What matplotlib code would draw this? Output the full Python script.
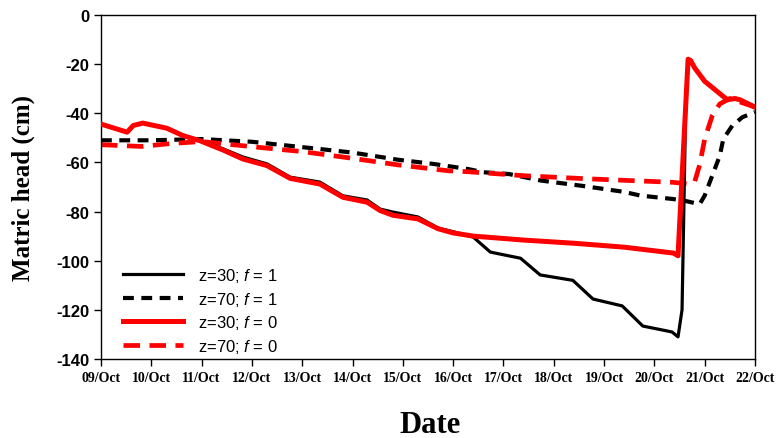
import numpy as np
import pandas as pd
import matplotlib
matplotlib.use('Agg')
import matplotlib.pyplot as plt
import matplotlib.dates as mdates

plt.rcParams['axes.unicode_minus'] = False
plt.rcParams['mathtext.fontset'] = 'custom'
plt.rcParams['mathtext.it'] = 'Liberation Sans:italic'
plt.rcParams['mathtext.rm'] = 'Liberation Sans'

# days after 09/Oct 00:00 and matric head (cm)
start = pd.Timestamp('2012-10-09')

t_z30_f0 = [0, 0.52, 0.64, 0.83, 1.31, 1.63, 1.97, 2.43, 2.82, 3.30, 3.76, 4.35, 4.81, 5.29,
            5.55, 5.8, 6.3, 6.7, 7.0, 7.4, 8.4, 9.4, 10.4, 11.38, 11.47, 11.67, 11.72,
            11.8, 12.0, 12.45, 12.6, 12.7, 13.0]
h_z30_f0 = [-44.4, -47.7, -45, -44, -46.1, -49.1, -51.2, -55.0, -58.6, -61.3, -66.5, -68.8,
            -74.2, -76.2, -79.6, -81.5, -83, -87, -88.7, -90, -91.6, -92.9, -94.5, -96.9,
            -98, -18, -18.5, -21.5, -27, -34.5, -34, -34.5, -37.5]

t_z30_f1 = [0, 0.52, 0.64, 0.83, 1.31, 1.63, 1.97, 2.43, 2.82, 3.30, 3.76, 4.35, 4.81, 5.29,
            5.55, 5.8, 6.3, 6.7, 7.0, 7.4, 7.74, 8.34, 8.73, 9.38, 9.78, 10.36, 10.77,
            11.35, 11.47, 11.55, 11.62, 11.67, 11.72, 11.8, 12.0, 12.45, 12.6, 12.7, 13.0]
h_z30_f1 = [-44.4, -47.7, -45, -44, -46.1, -49.1, -51.0, -54.5, -57.8, -60.6, -66.0, -68.0,
            -73.6, -75.3, -79.0, -80.2, -82.2, -86.7, -88.2, -90.4, -96.5, -99, -105.8, -108,
            -115.6, -118.4, -126.6, -129, -131, -120, -40, -18, -18.5, -21.5, -27, -34.5, -34,
            -34.5, -37.5]

t_z70_f1 = [0, 1.0, 2.0, 3.0, 4.1, 5.0, 5.9, 6.6, 7.3, 7.6, 8.1, 8.75, 9.55, 10.4, 10.72,
            11.37, 11.6, 11.9, 12.0, 12.15, 12.3, 12.37, 12.55, 12.75, 13.0]
h_z70_f1 = [-51, -51, -50.5, -51.6, -54, -56, -58.9, -60.6, -62.7, -64, -64.7, -67.4, -69.5,
            -72, -73.5, -74.9, -75.6, -77, -73.5, -65.4, -57.3, -50.5, -45, -41.6, -39.5]

t_z70_f0 = [0, 0.8, 1.4, 2.0, 3.1, 4.0, 4.95, 5.9, 6.9, 7.3, 8.4, 9.7, 11.37, 11.7, 11.8,
            11.9, 12.0, 12.15, 12.3, 12.5, 13.0]
h_z70_f0 = [-52.8, -53.5, -52.3, -51.5, -53.8, -55.6, -58.2, -61, -63.4, -63.8, -65.4, -66.7,
            -68.1, -68.8, -68, -61, -50.5, -41, -36.2, -34, -37.5]


def to_dates(days):
    return start + pd.to_timedelta(np.array(days), unit='D')


fig = plt.figure(figsize=(7.81, 4.39), dpi=100)
ax = fig.add_axes([0.1293, 0.18, 0.8374, 0.7836])

ax.plot(to_dates(t_z30_f1), h_z30_f1, color='black', lw=2.3, label='z=30; $f$ = 1', zorder=3)
ax.plot(to_dates(t_z70_f1), h_z70_f1, color='black', lw=3.0, ls=(0, (2.6, 1.8)),
        label='z=70; $f$ = 1', zorder=2)
ax.plot(to_dates(t_z30_f0), h_z30_f0, color='red', lw=3.6, label='z=30; $f$ = 0', zorder=4)
ax.plot(to_dates(t_z70_f0), h_z70_f0, color='red', lw=3.4, ls=(0, (3.5, 2.0)),
        label='z=70; $f$ = 0', zorder=2)

ax.set_xlim(start, start + pd.Timedelta(days=13))
ax.set_ylim(-140, 0)
ax.set_yticks(np.arange(-140, 1, 20))
ax.xaxis.set_major_locator(mdates.DayLocator())
ax.xaxis.set_major_formatter(mdates.DateFormatter('%d/%b'))

ax.tick_params(direction='out', length=5, width=1, top=False, right=False)
for lab in ax.get_yticklabels():
    lab.set_fontfamily('Liberation Sans')
    lab.set_fontweight('bold')
    lab.set_fontsize(12)
for lab in ax.get_xticklabels():
    lab.set_fontfamily('Liberation Serif')
    lab.set_fontweight('bold')
    lab.set_fontsize(10)
for sp in ax.spines.values():
    sp.set_linewidth(1)

ax.set_ylabel('Matric head (cm)', fontfamily='Liberation Serif', fontweight='bold', fontsize=18)
ax.yaxis.set_label_coords(-0.101, 0.5)
ax.set_xlabel('Date', fontfamily='Liberation Serif', fontweight='bold', fontsize=22)
ax.xaxis.set_label_coords(0.503, -0.148)

leg = ax.legend(loc='lower left', bbox_to_anchor=(0.01, -0.032), frameon=False,
                prop={'family': 'Liberation Sans', 'size': 12}, handlelength=3.6,
                labelspacing=0.34, handletextpad=0.9)

fig.savefig('out.png', dpi=100)
